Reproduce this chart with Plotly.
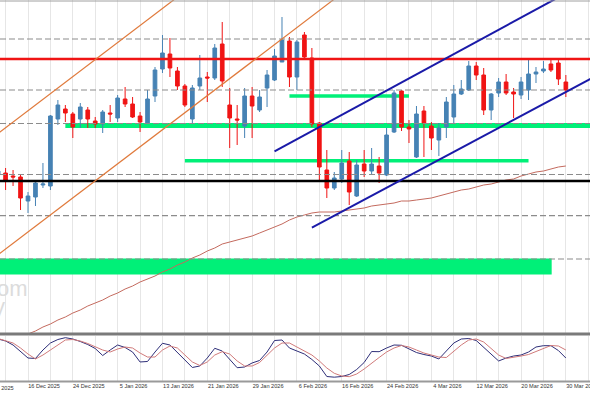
import plotly.graph_objects as go
import pandas as pd

# ---------------- data ----------------
dates = [d for d in pd.bdate_range("2025-12-10", "2026-03-30")
         if d.strftime("%m-%d") not in ("12-25", "01-01")]
idx = list(range(len(dates)))

open_ = [1.1825,1.1827,1.1824,1.1823,1.1799,1.1803,1.1815,1.1814,1.1881,1.1891,
         1.1886,1.1881,1.1890,1.1879,1.1876,1.1887,1.1882,1.1901,1.1896,1.1884,
         1.1877,1.1904,1.1931,1.1946,1.1929,1.1914,1.1881,1.1914,1.1923,1.1922,
         1.1956,1.1895,1.1881,1.1874,1.1904,1.1890,1.1912,1.1920,1.1938,1.1959,
         1.1923,1.1965,1.1942,1.1877,1.1830,1.1812,1.1821,1.1839,1.1804,1.1836,
         1.1829,1.1834,1.1825,1.1868,1.1909,1.1873,1.1843,1.1889,1.1874,1.1860,
         1.1873,1.1883,1.1906,1.1910,1.1934,1.1925,1.1890,1.1907,1.1918,1.1908,
         1.1905,1.1910,1.1926,1.1929,1.1936,1.1937,1.1918]
high = [1.1832,1.1832,1.1830,1.1825,1.1808,1.1820,1.1837,1.1885,1.1900,1.1895,
        1.1888,1.1897,1.1893,1.1883,1.1890,1.1895,1.1905,1.1913,1.1903,1.1888,
        1.1910,1.1933,1.1965,1.1962,1.1933,1.1916,1.1915,1.1945,1.1928,1.1956,
        1.1978,1.1912,1.1895,1.1912,1.1913,1.1910,1.1930,1.1951,1.1983,1.1963,
        1.1960,1.1968,1.1952,1.1878,1.1850,1.1828,1.1850,1.1848,1.1840,1.1850,
        1.1852,1.1843,1.1872,1.1910,1.1910,1.1880,1.1894,1.1894,1.1878,1.1877,
        1.1903,1.1915,1.1920,1.1939,1.1938,1.1932,1.1907,1.1922,1.1926,1.1912,
        1.1923,1.1940,1.1933,1.1939,1.1940,1.1940,1.1925]
low = [1.1823,1.1810,1.1814,1.1790,1.1787,1.1794,1.1812,1.1810,1.1875,1.1878,
       1.1862,1.1872,1.1872,1.1872,1.1867,1.1878,1.1878,1.1893,1.1882,1.1868,
       1.1876,1.1898,1.1927,1.1923,1.1910,1.1893,1.1877,1.1910,1.1898,1.1920,
       1.1913,1.1852,1.1855,1.1862,1.1862,1.1888,1.1893,1.1919,1.1938,1.1913,
       1.1910,1.1942,1.1873,1.1820,1.1802,1.1810,1.1817,1.1795,1.1803,1.1823,
       1.1825,1.1817,1.1824,1.1867,1.1869,1.1857,1.1842,1.1843,1.1850,1.1844,
       1.1862,1.1877,1.1905,1.1909,1.1920,1.1885,1.1880,1.1903,1.1905,1.1882,
       1.1901,1.1900,1.1917,1.1927,1.1928,1.1915,1.1903]
close = [1.1829,1.1820,1.1823,1.1802,1.1804,1.1817,1.1816,1.1884,1.1895,1.1887,
         1.1873,1.1893,1.1881,1.1876,1.1888,1.1886,1.1902,1.1896,1.1883,1.1878,
         1.1901,1.1930,1.1947,1.1932,1.1914,1.1895,1.1912,1.1922,1.1922,1.1952,
         1.1919,1.1882,1.1880,1.1904,1.1894,1.1903,1.1925,1.1944,1.1960,1.1923,
         1.1958,1.1943,1.1876,1.1833,1.1812,1.1822,1.1837,1.1808,1.1835,1.1829,
         1.1836,1.1827,1.1865,1.1907,1.1873,1.1871,1.1886,1.1877,1.1862,1.1872,
         1.1898,1.1906,1.1911,1.1934,1.1925,1.1890,1.1906,1.1918,1.1907,1.1906,
         1.1918,1.1926,1.1928,1.1931,1.1930,1.1921,1.1910]
moving_avg = [None,None,1.1659,1.1663,1.1666,1.1669,1.1673,1.1676,1.1680,1.1683,
              1.1687,1.1690,1.1694,1.1697,1.1700,1.1704,1.1707,1.1711,1.1714,1.1718,
              1.1721,1.1724,1.1728,1.1731,1.1735,1.1738,1.1742,1.1745,1.1749,1.1752,
              1.1756,1.1758,1.1760,1.1762,1.1764,1.1767,1.1770,1.1773,1.1776,1.1780,
              1.1783,1.1785,1.1787,1.1788,1.1788,1.1788,1.1789,1.1790,1.1791,1.1792,
              1.1794,1.1795,1.1796,1.1797,1.1799,1.1799,1.1800,1.1801,1.1802,1.1804,
              1.1806,1.1808,1.1810,1.1811,1.1813,1.1815,1.1816,1.1818,1.1820,1.1821,
              1.1824,1.1826,1.1828,1.1829,1.1831,1.1833,1.1834]
stoch_k = [92.3,87.9,79.1,63.7,50.5,49.5,68.1,83.5,91.2,95.2,
           92.3,86.8,80.2,71.4,56.0,68.1,79.1,73.6,63.7,41.8,
           42.9,63.7,82.9,79.1,63.7,46.2,29.7,33.0,50.5,71.9,
           65.9,48.4,29.2,30.8,39.6,45.1,63.7,89.0,90.1,72.5,
           65.9,59.3,47.3,33.0,9.9,8.4,9.9,14.3,25.3,40.7,
           64.8,64.4,72.5,79.1,78.5,70.3,62.6,58.2,54.9,48.4,
           65.9,83.5,92.3,93.4,89.0,73.6,58.2,44.0,50.5,54.9,
           57.1,63.7,74.7,77.6,77.6,67.0,50.5]
stoch_d = [93.4,89.0,83.5,72.5,59.3,48.4,57.1,68.1,79.1,90.1,
           91.2,87.9,82.4,74.7,68.1,63.7,70.3,74.7,72.5,61.5,
           52.7,52.7,68.1,76.9,72.5,57.1,41.8,34.1,41.8,57.1,
           64.4,59.3,44.0,33.0,33.0,40.7,57.1,72.5,83.5,83.5,
           74.7,65.9,57.1,44.0,28.6,16.9,11.0,9.5,15.4,26.4,
           39.6,51.6,63.7,72.5,78.0,74.7,68.1,61.5,57.1,52.7,
           51.6,65.9,79.1,90.1,92.3,85.7,70.3,57.1,49.5,51.6,
           54.9,58.2,64.8,72.5,78.0,76.9,68.1]

# analyst drawings (bar index, price)
resistance = 1.1941
black_level = 1.1819
dashed_levels = [1.1961, 1.1910, 1.18765, 1.18255, 1.17843, 1.1741]
green_zones = [  # (x0, x1, price_low, price_high)
    (9, 80, 1.1872, 1.1877),
    (25, 71, 1.18375, 1.1841),
    (39, 55, 1.19023, 1.19057),
    (-2, 74.1, 1.17255, 1.17415),
]
orange_channel = [((0, 1.18666), (24, 1.20029)), ((0, 1.17453), (45, 1.20009))]
blue_channel = [((42, 1.17723), (80, 1.19239)), ((37, 1.18487), (76, 1.20067))]

label_idx = list(range(4, len(dates), 6))
label_text = [f"{dates[i].day} {dates[i].strftime('%b %Y')}" for i in label_idx]
prev_label = "8 Dec 2025"  # partly cut label at the left edge (bar index -2)

# ---------------- figure ----------------
W, H, MB = 590, 393, 11
PH = H - MB
x_range = [0.252, 79.23]
GRID = "#e6e6e6"
RED = "#f01414"
BLUE_C = "#4682b4"
FONT = "Liberation Sans"

fig = go.Figure()
fig.add_trace(go.Candlestick(
    x=idx, open=open_, high=high, low=low, close=close,
    increasing=dict(line=dict(color=BLUE_C, width=1), fillcolor=BLUE_C),
    decreasing=dict(line=dict(color=RED, width=1), fillcolor=RED),
    whiskerwidth=0, hoverinfo="skip", xaxis="x", yaxis="y"))
fig.add_trace(go.Scatter(x=idx, y=moving_avg, mode="lines",
                         line=dict(color="#c46a5e", width=1), hoverinfo="skip",
                         xaxis="x", yaxis="y"))
fig.add_trace(go.Scatter(x=idx, y=stoch_k, mode="lines",
                         line=dict(color="#2e2e78", width=1), hoverinfo="skip",
                         xaxis="x2", yaxis="y2"))
fig.add_trace(go.Scatter(x=idx, y=stoch_d, mode="lines",
                         line=dict(color="#d07a7a", width=1), hoverinfo="skip",
                         xaxis="x2", yaxis="y2"))

shapes = []
for (x0, x1, y0, y1) in green_zones:
    shapes.append(dict(type="rect", xref="x", yref="y", x0=x0, x1=x1, y0=y0, y1=y1,
                       fillcolor="#00f078", line=dict(width=0), layer="between"))
for lv in dashed_levels:
    shapes.append(dict(type="line", xref="paper", yref="y", x0=0, x1=1, y0=lv, y1=lv,
                       line=dict(color="#8c8c8c", width=1.2, dash="6px,3px")))
shapes.append(dict(type="line", xref="paper", yref="y", x0=0, x1=1, y0=resistance,
                   y1=resistance, line=dict(color=RED, width=2.5)))
shapes.append(dict(type="line", xref="paper", yref="y", x0=0, x1=1, y0=black_level,
                   y1=black_level, line=dict(color="#000000", width=2.5)))
for (a, b) in orange_channel:
    shapes.append(dict(type="line", xref="x", yref="y", x0=a[0], y0=a[1], x1=b[0], y1=b[1],
                       line=dict(color="#e07a3c", width=1.2)))
for (a, b) in blue_channel:
    shapes.append(dict(type="line", xref="x", yref="y", x0=a[0], y0=a[1], x1=b[0], y1=b[1],
                       line=dict(color="#1a1aa8", width=2)))


def py(px):
    return (PH - px) / PH


shapes.append(dict(type="line", xref="paper", yref="paper", x0=0, x1=1, y0=py(1), y1=py(1),
                   line=dict(color="#a0a0a0", width=1)))
shapes.append(dict(type="line", xref="paper", yref="paper", x0=0, x1=1, y0=py(334), y1=py(334),
                   line=dict(color="#7a7a7a", width=3)))
shapes.append(dict(type="line", xref="paper", yref="paper", x0=0, x1=1, y0=py(381.5), y1=py(381.5),
                   line=dict(color="#9a9a9a", width=2)))

annotations = [
    dict(text="om", xref="paper", yref="paper", x=30 / W, y=py(303), xanchor="right",
         yanchor="bottom", showarrow=False, font=dict(family=FONT, size=22, color="#dcdcdc")),
    dict(text="y", xref="paper", yref="paper", x=7 / W, y=py(321), xanchor="right",
         yanchor="bottom", showarrow=False, font=dict(family=FONT, size=22, color="#dcdcdc")),
    dict(text=prev_label, xref="paper", yref="paper",
         x=(-2 - x_range[0]) / (x_range[1] - x_range[0]), y=0, xanchor="left",
         yanchor="top", yshift=-1, showarrow=False,
         font=dict(family=FONT, size=5.6, color="#333333")),
]

axis_common = dict(range=x_range, showgrid=True, gridcolor=GRID, gridwidth=1,
                   tickmode="array", tickvals=label_idx, zeroline=False, showline=False,
                   ticks="", fixedrange=True, automargin=False,
                   minor=dict(tickmode="linear", tick0=1, dtick=3, showgrid=True,
                              gridcolor=GRID, gridwidth=1))

fig.update_layout(
    width=W, height=H,
    margin=dict(l=0, r=0, t=0, b=MB, pad=0, autoexpand=False),
    paper_bgcolor="white", plot_bgcolor="white",
    showlegend=False,
    xaxis=dict(**axis_common, anchor="y", showticklabels=False,
               rangeslider=dict(visible=False)),
    xaxis2=dict(**axis_common, anchor="y2", matches="x", showticklabels=True,
                ticktext=label_text, ticklabelshift=16, ticklabeloverflow="allow",
                tickfont=dict(family=FONT, size=5.6, color="#333333")),
    yaxis=dict(domain=[py(334), 1], range=[1.1666, 1.2000], showticklabels=False,
               showgrid=False, zeroline=False, fixedrange=True, automargin=False),
    yaxis2=dict(domain=[py(381), py(335.5)], range=[0, 100], showticklabels=False,
                showgrid=False, zeroline=False, fixedrange=True, automargin=False),
    shapes=shapes,
    annotations=annotations,
)

fig.write_html("out.html")
